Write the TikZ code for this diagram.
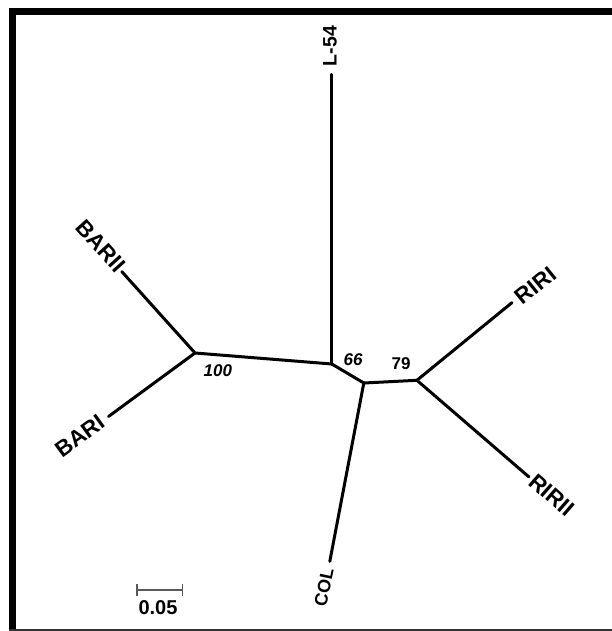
\documentclass[tikz,border=0pt]{standalone}
\usepackage{fontspec}
\setmainfont{Liberation Sans}
\begin{document}
\begin{tikzpicture}[x=1pt,y=-1pt,
  branch/.style={line width=3pt,line cap=round,line join=round},
  lab/.style={font=\bfseries\fontsize{22.5}{24}\selectfont,inner sep=0pt},
  vlab/.style={font=\bfseries\fontsize{19.5}{22}\selectfont,inner sep=0pt},
  boot/.style={font=\bfseries\itshape\fontsize{17}{19}\selectfont,inner sep=0pt},
  bootup/.style={font=\bfseries\fontsize{17}{19}\selectfont,inner sep=0pt}]
\useasboundingbox (0,0) rectangle (612,631);
\fill[white] (0,0) rectangle (612,631);
% frame
\draw[line width=7pt] (9,11.5) -- (612,11.5);
\draw[line width=7pt] (12.5,8) -- (12.5,631);
\draw[line width=2pt,black!80] (9,629.5) -- (612,629.5);
% internal nodes
\coordinate (nL) at (331.8,364);
\coordinate (nB) at (195,353);
\coordinate (nC) at (363.8,383);
\coordinate (nR) at (416.9,380.3);
% leaves
\coordinate (tL54) at (331.8,74.4);
\coordinate (tBARII) at (121.8,271.6);
\coordinate (tBARI) at (108.5,416.5);
\coordinate (tCOL) at (329.8,561.4);
\coordinate (tRIRI) at (512,302.6);
\coordinate (tRIRII) at (528.9,476.9);
% branches
\draw[branch] (tL54) -- (nL);
\draw[branch] (tBARII) -- (nB);
\draw[branch] (tBARI) -- (nB);
\draw[branch] (nB) -- (nL);
\draw[branch] (nL) -- (nC);
\draw[branch] (nC) -- (tCOL);
\draw[branch] (nC) -- (nR);
\draw[branch] (nR) -- (tRIRI);
\draw[branch] (nR) -- (tRIRII);
% leaf labels
\node[vlab,rotate=90] (lL54) at (330,46) {L-54};
\node[lab,rotate=-48] (lBARII) at (100.7,246) {BARII};
\node[lab,rotate=36] (lBARI) at (80,436) {BARI};
\node[lab,rotate=39] (lRIRI) at (535.5,285.7) {RIRI};
\node[lab,rotate=-41] (lRIRII) at (552,495) {RIRII};
\node[font=\bfseries\fontsize{18}{20}\selectfont,inner sep=0pt,rotate=78] (lCOL) at (324,587.5) {COL};
% bootstrap values
\node[boot] (b100) at (217.8,371) {100};
\node[boot] (b66) at (353,360) {66};
\node[bootup] (b79) at (401,364) {79};
% scale bar
\coordinate (sA) at (137,590);
\coordinate (sB) at (182.3,590);
\draw[line width=2pt,black!65] (sA) -- (sB);
\draw[line width=1.6pt,black!65] ([yshift=-6pt]sA) -- ([yshift=6pt]sA);
\draw[line width=1.6pt,black!65] ([yshift=-6pt]sB) -- ([yshift=6pt]sB);
\node[font=\bfseries\fontsize{20}{22}\selectfont,inner sep=0pt] (sLab) at (158,608) {0.05};
\end{tikzpicture}
\end{document}
